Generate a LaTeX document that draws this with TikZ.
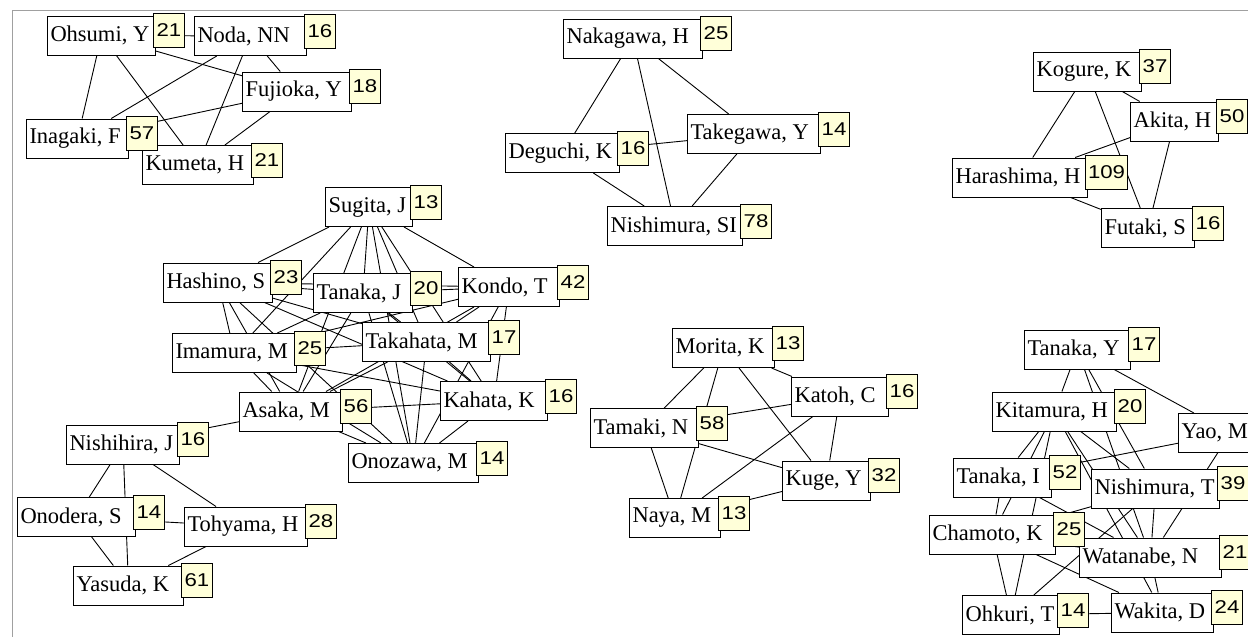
\documentclass[tikz,border=0pt]{standalone}
\usepackage{fontspec}
\setmainfont{Liberation Serif}
\newfontfamily\numfont[FakeStretch=1.2]{Liberation Sans}
\usetikzlibrary{backgrounds}

\definecolor{notecol}{RGB}{255,255,217}
\definecolor{framecol}{RGB}{160,160,160}

% #1 id, #2 left x, #3 centre y, #4 width, #5 name, #6 count
\newcommand{\auth}[6]{%
  \node[namebox, anchor=west] (#1) at (#2,#3) {\makebox[\dimexpr#4pt-6pt\relax][l]{#5}};
  \node[countbox, anchor=north west] (#1c) at ([xshift=-3pt,yshift=2.5pt]#1.north east) {#6};
}

\begin{document}
\begin{tikzpicture}[x=1pt, y=-1pt,
    namebox/.style={draw, fill=white, line width=1pt, minimum height=39pt, inner xsep=3pt, inner ysep=0pt, font=\fontsize{22.5}{26}\selectfont},
    countbox/.style={draw, fill=notecol, line width=1pt, minimum height=34pt, minimum width=31pt, inner xsep=2.5pt, inner ysep=0pt, font=\numfont\fontsize{18.5}{20}\selectfont},
    link/.style={line width=0.9pt}]
    \useasboundingbox (0,0) rectangle (1248,637);
    \draw[framecol, line width=1pt] (12,637) -- (12,10) -- (1248,10);

    \auth{ohsumi}{47}{35.5}{108}{Ohsumi, Y}{21}
    \auth{noda}{194}{36}{112}{Noda, NN}{16}
    \auth{fujioka}{242}{91.5}{109}{Fujioka, Y}{18}
    \auth{kumeta}{142}{165}{111}{Kumeta, H}{21}
    \auth{inagaki}{26}{138.5}{102}{Inagaki, F}{57}

    \auth{sugita}{325}{207}{87}{Sugita, J}{13}
    \auth{hashino}{163}{282.5}{109}{Hashino, S}{23}
    \auth{tanakaj}{313}{293}{99}{Tanaka, J}{20}
    \auth{kondo}{458}{287}{101}{Kondo, T}{42}
    \auth{imamura}{172}{353}{124}{Imamura, M}{25}
    \auth{takahata}{362}{342}{128}{Takahata, M}{17}
    \auth{asaka}{239}{411.5}{103}{Asaka, M}{56}
    \auth{kahata}{440}{401}{107}{Kahata, K}{16}
    \auth{onozawa}{348}{463}{130}{Onozawa, M}{14}

    \auth{nishihira}{66}{444.5}{113}{Nishihira, J}{16}
    \auth{onodera}{17}{517}{118}{Onodera, S}{14}
    \auth{tohyama}{184}{526.5}{123}{Tohyama, H}{28}
    \auth{yasuda}{73}{585.5}{110}{Yasuda, K}{61}

    \auth{nakagawa}{563}{38.5}{139}{Nakagawa, H}{25}
    \auth{deguchi}{505}{153}{114}{Deguchi, K}{16}
    \auth{takegawa}{687}{134}{133}{Takegawa, Y}{14}
    \auth{nishimurasi}{607}{226}{135}{Nishimura, SI}{78}

    \auth{kogure}{1033}{71.5}{108}{Kogure, K}{37}
    \auth{akita}{1130}{121.5}{88}{Akita, H}{50}
    \auth{harashima}{952}{177.5}{135}{Harashima, H}{109}
    \auth{futaki}{1101}{228}{93}{Futaki, S}{16}

    \auth{morita}{672}{348}{102}{Morita, K}{13}
    \auth{katoh}{791}{396.5}{97}{Katoh, C}{16}
    \auth{tamaki}{590}{428}{108}{Tamaki, N}{58}
    \auth{kuge}{782}{480.5}{88}{Kuge, Y}{32}
    \auth{naya}{629}{518}{91}{Naya, M}{13}

    \auth{tanakay}{1024}{349.5}{106}{Tanaka, Y}{17}
    \auth{kitamura}{992}{411.5}{124}{Kitamura, H}{20}
    \node[namebox, anchor=west] (yao) at (1178,433) {\makebox[98pt][l]{Yao, M}};
    \auth{tanakai}{953}{477.5}{98}{Tanaka, I}{52}
    \auth{nishimurat}{1091}{488.5}{128}{Nishimura, T}{39}
    \auth{watanabe}{1079}{557.5}{142}{Watanabe, N}{21}
    \auth{chamoto}{929}{534.5}{126}{Chamoto, K}{25}
    \auth{ohkuri}{962}{615}{97}{Ohkuri, T}{14}
    \auth{wakita}{1111}{612.5}{102}{Wakita, D}{24}

    \begin{pgfonlayer}{background}
        \foreach \a/\b in {ohsumi/noda, ohsumi/inagaki, ohsumi/kumeta, ohsumi/fujioka, noda/inagaki, noda/kumeta, noda/fujioka, fujioka/inagaki, fujioka/kumeta}
            \draw[link] (\a) -- (\b);
        \foreach \a [count=\i] in {sugita,hashino,tanakaj,kondo,imamura,takahata,asaka,kahata,onozawa}
            \foreach \b [count=\j] in {sugita,hashino,tanakaj,kondo,imamura,takahata,asaka,kahata,onozawa}
                {\ifnum\j>\i \draw[link] (\a) -- (\b); \fi}
        \foreach \a/\b in {nishihira/asaka, nishihira/onodera, nishihira/yasuda, nishihira/tohyama, onodera/tohyama, onodera/yasuda, tohyama/yasuda}
            \draw[link] (\a) -- (\b);
        \foreach \a/\b in {nakagawa/deguchi, nakagawa/nishimurasi, nakagawa/takegawa, deguchi/takegawa, deguchi/nishimurasi, takegawa/nishimurasi}
            \draw[link] (\a) -- (\b);
        \foreach \a/\b in {kogure/harashima, kogure/akita, kogure/futaki, akita/harashima, akita/futaki, harashima/futaki}
            \draw[link] (\a) -- (\b);
        \foreach \a/\b in {morita/tamaki, morita/naya, morita/katoh, morita/kuge, katoh/tamaki, katoh/naya, katoh/kuge, tamaki/kuge, tamaki/naya, kuge/naya}
            \draw[link] (\a) -- (\b);
        \foreach \a/\b in {tanakay/kitamura, tanakay/yao, tanakay/nishimurat, tanakay/watanabe,
                           kitamura/tanakai, kitamura/chamoto, kitamura/ohkuri, kitamura/nishimurat, kitamura/watanabe, kitamura/wakita,
                           tanakai/yao, tanakai/chamoto, tanakai/watanabe, yao/watanabe,
                           nishimurat/chamoto, nishimurat/watanabe, nishimurat/ohkuri,
                           chamoto/ohkuri, chamoto/wakita, chamoto/watanabe, watanabe/wakita, ohkuri/wakita}
            \draw[link] (\a) -- (\b);
    \end{pgfonlayer}
\end{tikzpicture}
\end{document}
